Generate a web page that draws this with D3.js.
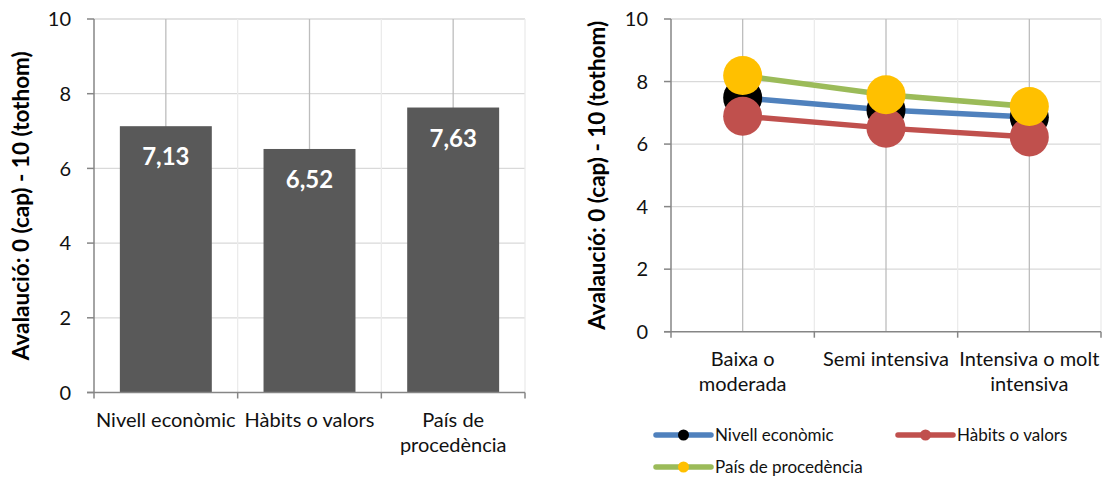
<!DOCTYPE html>
<html>
<head>
<meta charset="utf-8">
<script src="https://cdn.jsdelivr.net/npm/d3@7"></script>
<style>
  body { margin: 0; background: #fff; }
  svg { display: block; font-family: Lato, "Open Sans", sans-serif; }
</style>
</head>
<body>
<svg id="chart" width="1104" height="478"></svg>
<script>
// left chart: bars
const barCats = ["Nivell econòmic", "Hàbits o valors", "País de procedència"];
const barLabels = [["Nivell econòmic"], ["Hàbits o valors"], ["País de", "procedència"]];
const barValues = [7.13, 6.52, 7.63];

// right chart: lines
const lineCats = ["Baixa o moderada", "Semi intensiva", "Intensiva o molt intensiva"];
const lineLabels = [["Baixa o", "moderada"], ["Semi intensiva"], ["Intensiva o molt", "intensiva"]];
const seriesNames = ["Nivell econòmic", "Hàbits o valors", "País de procedència"];
const nivell = [7.48, 7.09, 6.86];
const habits = [6.89, 6.51, 6.23];
const pais = [8.19, 7.58, 7.20];
const lineColors = ["#4F81BD", "#C0504D", "#9BBB59"];
const markerColors = ["#000000", "#C0504D", "#FFC000"];

const yTicks = [0, 2, 4, 6, 8, 10];
const yTitle = "Avalaució: 0 (cap) - 10 (tothom)";

const svg = d3.select("#chart");

function frame(g, x, y, cats, w) {
    // horizontal grid
    g.append("g").selectAll("line").data(yTicks.slice(1)).enter().append("line")
        .attr("x1", 0).attr("x2", w)
        .attr("y1", d => y(d)).attr("y2", d => y(d))
        .attr("stroke", "#d9d9d9").attr("stroke-width", 1.3);
    // vertical grid at boundaries (light) and centers (darker)
    let bounds = cats.map(c => x(c)).slice(1).concat([w]);
    g.append("g").selectAll("line").data(bounds).enter().append("line")
        .attr("x1", d => d).attr("x2", d => d)
        .attr("y1", y(10)).attr("y2", y(0))
        .attr("stroke", "#ebebeb").attr("stroke-width", 1.3);
    g.append("g").selectAll("line").data(cats).enter().append("line")
        .attr("x1", d => x(d) + x.bandwidth() / 2).attr("x2", d => x(d) + x.bandwidth() / 2)
        .attr("y1", y(10)).attr("y2", y(0))
        .attr("stroke", "#bdbdbd").attr("stroke-width", 1.3);
}

function axes(g, x, y, cats, labels, w, titleX, tickX) {
    // y axis
    g.append("line").attr("x1", 0).attr("x2", 0).attr("y1", y(10)).attr("y2", y(0))
        .attr("stroke", "#868686").attr("stroke-width", 1.5);
    g.append("g").selectAll("line").data(yTicks).enter().append("line")
        .attr("x1", -7).attr("x2", 0).attr("y1", d => y(d)).attr("y2", d => y(d))
        .attr("stroke", "#868686").attr("stroke-width", 1.5);
    g.append("g").selectAll("text").data(yTicks).enter().append("text")
        .attr("x", tickX).attr("y", d => y(d)).attr("dy", "0.36em")
        .attr("text-anchor", "end").style("font-size", "20px").attr("fill", "#111")
        .text(d => d);
    // x axis
    g.append("line").attr("x1", -7).attr("x2", w).attr("y1", y(0)).attr("y2", y(0))
        .attr("stroke", "#868686").attr("stroke-width", 1.5);
    let bounds = [0].concat(cats.map(c => x(c) + x.bandwidth()));
    g.append("g").selectAll("line").data(bounds).enter().append("line")
        .attr("x1", d => d).attr("x2", d => d).attr("y1", y(0)).attr("y2", y(0) + 6)
        .attr("stroke", "#868686").attr("stroke-width", 1.5);
    cats.forEach(function(c, i) {
        let t = g.append("text")
            .attr("x", x(c) + x.bandwidth() / 2)
            .attr("y", y(0) + 34)
            .attr("text-anchor", "middle").style("font-size", "20px").attr("fill", "#111");
        labels[i].forEach(function(line, j) {
            t.append("tspan").attr("x", x(c) + x.bandwidth() / 2).attr("dy", j === 0 ? 0 : 25).text(line);
        });
    });
    g.append("text")
        .attr("transform", `translate(${titleX}, ${(y(10) + y(0)) / 2}) rotate(-90)`)
        .attr("text-anchor", "middle").attr("dy", "0.35em")
        .style("font-size", "22.5px").style("font-weight", "bold").attr("fill", "#000")
        .text(yTitle);
}

// ---------- GRAPH 1 ----------
const m1 = {left: 94, top: 19}, w1 = 431, h1 = 373.5;
let g1 = svg.append("g").attr("transform", `translate(${m1.left}, ${m1.top})`);
let x1 = d3.scaleBand().domain(barCats).range([0, w1]);
let y1 = d3.scaleLinear().domain([0, 10]).range([h1, 0]);

frame(g1, x1, y1, barCats, w1);

let bw = x1.bandwidth() * 0.64;
g1.append("g").selectAll("rect").data(barValues).enter().append("rect")
    .attr("x", (d, i) => x1(barCats[i]) + (x1.bandwidth() - bw) / 2)
    .attr("y", d => y1(d))
    .attr("width", bw)
    .attr("height", d => y1(0) - y1(d))
    .attr("fill", "#595959");

g1.append("g").selectAll("text").data(barValues).enter().append("text")
    .attr("x", (d, i) => x1(barCats[i]) + x1.bandwidth() / 2)
    .attr("y", d => y1(d) + 39)
    .attr("text-anchor", "middle")
    .style("font-size", "24px").style("font-weight", "bold").attr("fill", "#fff")
    .text(d => d.toFixed(2).replace(".", ","));

axes(g1, x1, y1, barCats, barLabels, w1, -73, -23);

// ---------- GRAPH 2 ----------
const m2 = {left: 671, top: 19}, w2 = 430, h2 = 312.7;
let g2 = svg.append("g").attr("transform", `translate(${m2.left}, ${m2.top})`);
let x2 = d3.scaleBand().domain(lineCats).range([0, w2]);
let y2 = d3.scaleLinear().domain([0, 10]).range([h2, 0]);

frame(g2, x2, y2, lineCats, w2);
axes(g2, x2, y2, lineCats, lineLabels, w2, -74, -23);

const allSeries = [nivell, habits, pais];
let line = d3.line()
    .x((d, i) => x2(lineCats[i]) + x2.bandwidth() / 2)
    .y(d => y2(d));

allSeries.forEach(function(s, k) {
    g2.append("path").datum(s).attr("d", line)
        .attr("fill", "none").attr("stroke", lineColors[k]).attr("stroke-width", 5.5)
        .attr("stroke-linejoin", "round");
});
allSeries.forEach(function(s, k) {
    g2.append("g").selectAll("circle").data(s).enter().append("circle")
        .attr("cx", (d, i) => x2(lineCats[i]) + x2.bandwidth() / 2)
        .attr("cy", d => y2(d))
        .attr("r", 19.5)
        .attr("fill", markerColors[k]);
});

// legend
const legendPos = [[656, 435], [898, 435], [656, 467]];
seriesNames.forEach(function(name, k) {
    let lg = svg.append("g").attr("transform", `translate(${legendPos[k][0]}, ${legendPos[k][1]})`);
    lg.append("line").attr("x1", 0).attr("x2", 55).attr("y1", 0).attr("y2", 0)
        .attr("stroke", lineColors[k]).attr("stroke-width", 5.5).attr("stroke-linecap", "round");
    lg.append("circle").attr("cx", 27.5).attr("cy", 0).attr("r", 5.5).attr("fill", markerColors[k]);
    lg.append("text").attr("x", 59).attr("y", 0).attr("dy", "0.35em")
        .style("font-size", "17px").attr("fill", "#111").text(name);
});
</script>
</body>
</html>
